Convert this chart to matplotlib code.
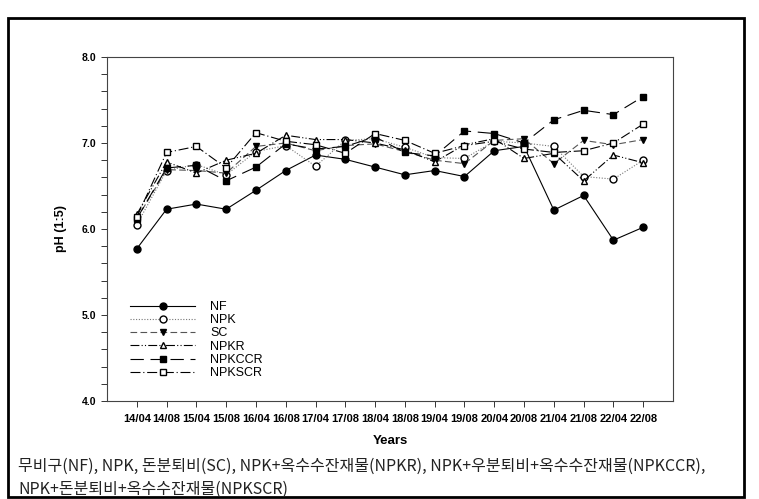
import matplotlib
matplotlib.use("Agg")
import matplotlib.pyplot as plt
from matplotlib.patches import Rectangle
from matplotlib.ticker import MultipleLocator

# --- data ---
dates = ["14/04", "14/08", "15/04", "15/08", "16/04", "16/08", "17/04", "17/08", "18/04",
         "18/08", "19/04", "19/08", "20/04", "20/08", "21/04", "21/08", "22/04", "22/08"]

nf = [5.77, 6.23, 6.29, 6.23, 6.45, 6.68, 6.86, 6.81, 6.72,
      6.63, 6.68, 6.61, 6.91, 6.96, 6.22, 6.39, 5.87, 6.02]
npk = [6.05, 6.68, 6.75, 6.63, 6.90, 6.97, 6.73, 7.03, 7.05,
       6.95, 6.83, 6.82, 7.02, 7.00, 6.96, 6.61, 6.58, 6.80]
sc = [6.12, 6.69, 6.68, 6.65, 6.96, 7.00, 6.91, 6.97, 6.99,
      6.90, 6.80, 6.76, 7.03, 7.05, 6.76, 7.03, 6.98, 7.04]
npkr = [6.17, 6.78, 6.65, 6.80, 6.88, 7.09, 7.04, 7.04, 7.00,
        6.92, 6.78, 6.98, 7.05, 6.82, 6.88, 6.56, 6.86, 6.77]
npkccr = [6.12, 6.71, 6.74, 6.56, 6.72, 6.99, 6.93, 6.96, 7.07,
          6.89, 6.85, 7.14, 7.11, 7.00, 7.27, 7.38, 7.33, 7.54]
npkscr = [6.14, 6.89, 6.96, 6.71, 7.12, 7.02, 6.98, 6.88, 7.11,
          7.03, 6.88, 6.97, 7.02, 6.93, 6.89, 6.91, 7.00, 7.22]

caption_1 = "무비구(NF), NPK, 돈분퇴비(SC), NPK+옥수수잔재물(NPKR), NPK+우분퇴비+옥수수잔재물(NPKCCR),"
caption_2 = "NPK+돈분퇴비+옥수수잔재물(NPKSCR)"

plt.rcParams["font.family"] = ["Liberation Sans", "DejaVu Sans"]

fig = plt.figure(figsize=(7.59, 4.99), dpi=100)
ax = fig.add_axes([107 / 759, 1 - 401 / 499, 566 / 759, 344 / 499])

x = list(range(len(dates)))
lw = 0.8
ms = 5

ax.plot(x, nf, color="black", linestyle="-", linewidth=lw,
        marker="o", markersize=ms, markerfacecolor="black", markeredgecolor="black", label="NF")
ax.plot(x, npk, color="#777777", linestyle=(0, (1, 1.5)), linewidth=lw,
        marker="o", markersize=ms, markerfacecolor="white", markeredgecolor="black", label="NPK")
ax.plot(x, sc, color="#555555", linestyle=(0, (6, 3)), linewidth=lw,
        marker="v", markersize=ms, markerfacecolor="black", markeredgecolor="black", label="SC")
ax.plot(x, npkr, color="black", linestyle=(0, (8, 2, 1, 2, 1, 2)), linewidth=lw,
        marker="^", markersize=ms, markerfacecolor="white", markeredgecolor="black", label="NPKR")
ax.plot(x, npkccr, color="black", linestyle=(0, (12, 6)), linewidth=lw,
        marker="s", markersize=ms - 0.5, markerfacecolor="black", markeredgecolor="black", label="NPKCCR")
ax.plot(x, npkscr, color="black", linestyle=(0, (9, 2.5, 1, 2.5)), linewidth=lw,
        marker="s", markersize=ms - 0.5, markerfacecolor="white", markeredgecolor="black", label="NPKSCR")

ax.set_xlim(-1, 18)
ax.set_ylim(4.0, 8.0)
ax.set_xticks(x)
ax.set_xticklabels(dates, fontsize=8, fontweight="bold")
ax.set_yticks([4.0, 5.0, 6.0, 7.0, 8.0])
ax.set_yticklabels(["4.0", "5.0", "6.0", "7.0", "8.0"], fontsize=7.5, fontweight="bold")
ax.yaxis.set_minor_locator(MultipleLocator(0.2))
ax.tick_params(axis="both", which="both", direction="out", length=4, width=0.7, color="#333333",
               top=False, right=False)
ax.tick_params(axis="x", pad=5)
for s in ax.spines.values():
    s.set_linewidth(0.8)
    s.set_color("#444444")

ax.set_xlabel("Years", fontsize=9.5, fontweight="bold", labelpad=8)
ax.set_ylabel("pH (1:5)", fontsize=9, fontweight="bold", labelpad=11)

ax.legend(loc="upper left", bbox_to_anchor=(130 / 759, 1 - 301 / 499),
          bbox_transform=fig.transFigure, frameon=False, fontsize=9,
          handlelength=5.2, handletextpad=1.2, labelspacing=0.1,
          borderpad=0, borderaxespad=0)

# outer frame
fig.patches.append(Rectangle((8 / 759, 2 / 499), 736 / 759, 479 / 499,
                             transform=fig.transFigure, fill=False,
                             edgecolor="black", linewidth=2))

cap_font = ["Noto Sans CJK KR", "DejaVu Sans"]
fig.text(18 / 759, 1 - 466 / 499, caption_1, fontsize=11.5, family=cap_font,
         va="center", ha="left", color="#222222")
fig.text(18 / 759, 1 - 489 / 499, caption_2, fontsize=11.5, family=cap_font,
         va="center", ha="left", color="#222222")

fig.savefig("out.png", dpi=100)
